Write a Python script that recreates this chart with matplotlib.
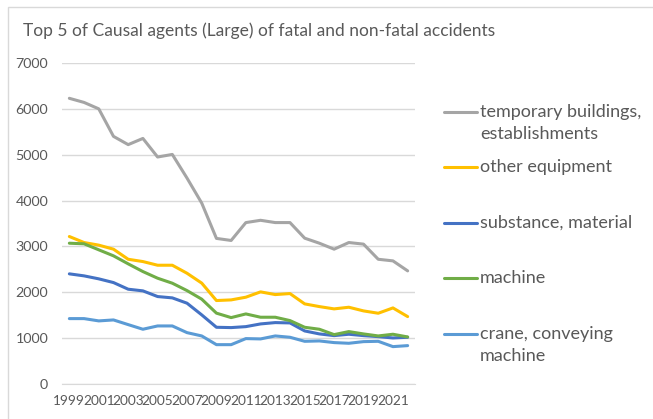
import numpy as np
import matplotlib
matplotlib.use("Agg")
import matplotlib.pyplot as plt
from matplotlib.lines import Line2D
from matplotlib.patches import Rectangle

years = list(range(1999, 2023))
series_names = ["temporary buildings,\nestablishments", "other equipment",
                "substance, material", "machine", "crane, conveying\nmachine"]
temporary_buildings = [6230, 6140, 6000, 5400, 5220, 5355, 4950, 5006, 4490, 3945,
                       3175, 3130, 3520, 3570, 3520, 3520, 3180, 3070, 2940, 3085,
                       3050, 2720, 2685, 2467]
other_equipment = [3216, 3085, 3028, 2940, 2720, 2670, 2590, 2590, 2415, 2200,
                   1820, 1834, 1893, 2009, 1950, 1972, 1747, 1688, 1638, 1674,
                   1594, 1543, 1659, 1470]
substance_material = [2402, 2358, 2293, 2212, 2067, 2031, 1907, 1878, 1762, 1507,
                      1237, 1230, 1251, 1310, 1339, 1332, 1157, 1092, 1055, 1085,
                      1055, 1033, 1004, 1019]
machine = [3070, 3057, 2926, 2795, 2620, 2452, 2307, 2198, 2037, 1850,
           1545, 1448, 1528, 1456, 1456, 1383, 1237, 1194, 1077, 1143,
           1092, 1048, 1085, 1026]
crane_conveying = [1426, 1426, 1376, 1397, 1295, 1194, 1266, 1266, 1120, 1048,
                   858, 858, 990, 983, 1048, 1019, 931, 939, 903, 888,
                   924, 931, 815, 837]
colors = ["#A5A5A5", "#FFC000", "#4472C4", "#70AD47", "#5B9BD5"]

plt.rcParams['font.family'] = ['Lato', 'DejaVu Sans']
W, H = 653, 419
fig = plt.figure(figsize=(W / 100, H / 100), dpi=100)

# chart frame, cut off at right and bottom like the screenshot
fig.patches.append(Rectangle((8 / W, -0.1), 1.2, (H - 7) / H + 0.1,
                             transform=fig.transFigure, fill=False,
                             edgecolor="#D9D9D9", linewidth=1))

ax = fig.add_axes([62 / W, (H - 384) / H, (415 - 62) / W, (384 - 63) / H])
x = np.arange(len(years))
data = [temporary_buildings, other_equipment, substance_material, machine, crane_conveying]
for vals, c in zip(data, colors):
    ax.plot(x, vals, color=c, linewidth=2.2, solid_capstyle="round", zorder=3)

ax.set_xlim(-0.5, len(years) - 0.5)
ax.set_ylim(0, 7000)
ax.set_yticks(range(0, 7001, 1000))
ax.set_xticks(x[::2])
ax.set_xticklabels([str(y) for y in years[::2]])
ax.grid(axis="y", color="#D9D9D9", linewidth=1)
ax.tick_params(axis="y", length=0, pad=10, labelsize=10.3, labelcolor="#595959")
ax.tick_params(axis="x", length=0, pad=8, labelsize=9.8, labelcolor="#595959")
for s in ax.spines.values():
    s.set_visible(False)
ax.spines["bottom"].set_visible(True)
ax.spines["bottom"].set_color("#D9D9D9")

fig.text(23 / W, 1 - 31 / H, "Top 5 of Causal agents (Large) of fatal and non-fatal accidents",
         fontsize=12.5, color="#595959", va="center", ha="left")

# legend drawn by hand (Excel aligns the sample with the first text line)
legend_y = [112, 167, 223, 278, 334]
for name, c, ly in zip(series_names, colors, legend_y):
    yf = 1 - ly / H
    fig.add_artist(Line2D([444 / W, 477 / W], [yf, yf], color=c, linewidth=2.2,
                          transform=fig.transFigure, solid_capstyle="round"))
    for k, part in enumerate(name.split("\n")):
        fig.text(480 / W, yf - (5 + 22 * k) / H, part, fontsize=13, color="#595959",
                 va="baseline", ha="left")

fig.savefig("out.png", dpi=100)
